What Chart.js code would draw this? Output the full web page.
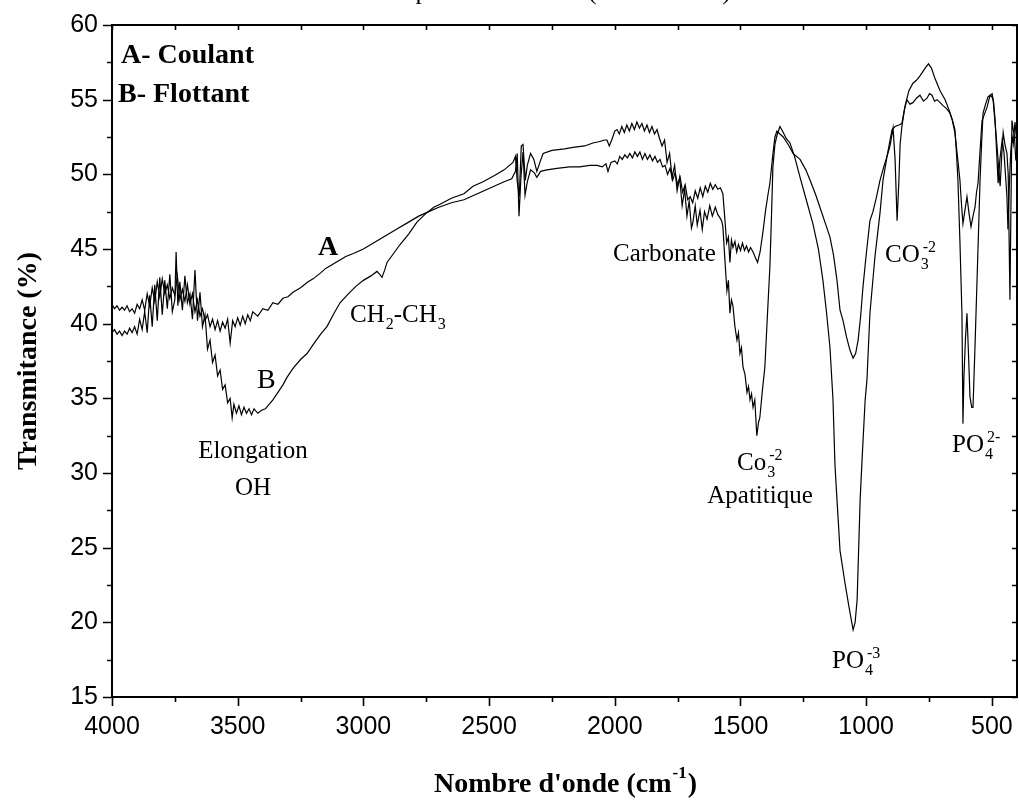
<!DOCTYPE html>
<html>
<head>
<meta charset="utf-8">
<script src="https://cdn.jsdelivr.net/npm/chart.js@4.4.0/dist/chart.umd.min.js"></script>
<style>
  body { margin: 0; background: #fff; }
  canvas { display: block; }
</style>
</head>
<body>
<canvas id="irChart" width="1019" height="803"></canvas>
<script>
// curve A - Coulant (starts high on the left, shallow phosphate band)
var waveA = [4000,3990,3980,3970,3960,3950,3940,3930,3920,3910,3900,3890,3880,3870,3860,3850,3840,3830,3820,3810,
  3800,3790,3780,3770,3760,3750,3740,3730,3720,3710,3700,3690,3680,3670,3660,3650,3640,3630,3620,3610,
  3600,3590,3580,3570,3560,3550,3540,3530,3520,3510,3500,3490,3480,3470,3460,3450,3440,3420,3400,3380,
  3360,3340,3320,3300,3280,3250,3220,3200,3170,3150,3120,3100,3070,3040,3000,2970,2940,2900,2860,2820,
  2780,2740,2700,2650,2600,2560,2520,2480,2440,2410,2395,2388,2381,2373,2365,2357,2348,2335,2320,2310,
  2295,2270,2230,2180,2140,2100,2070,2050,2035,2027,2015,2000,1990,1980,1970,1960,1950,1940,1930,1920,
  1910,1900,1890,1880,1870,1860,1850,1840,1830,1820,1810,1800,1790,1780,1770,1760,1750,1740,1730,1720,
  1710,1700,1690,1680,1670,1660,1650,1640,1630,1620,1610,1600,1590,1580,1570,1562,1555,1548,1542,1536,
  1530,1522,1515,1508,1500,1492,1484,1476,1468,1460,1450,1440,1432,1422,1411,1400,1390,1383,1372,1363,
  1355,1343,1330,1310,1291,1263,1240,1223,1200,1184,1160,1144,1130,1116,1104,1092,1078,1064,1052,1042,
  1032,1022,1013,1000,985,973,960,945,930,917,905,893,885,877,870,865,858,848,838,826,
  814,800,786,772,758,748,738,728,718,706,694,680,667,657,647,637,627,620,615,607,
  599,591,583,575,567,561,555,547,539,530,519,507,500,495,487,479,472,467,461,455,
  448,440,435,428,424,420,415,410,405,400];
var transA = [41.3,41.0,41.2,40.9,41.1,40.9,41.2,40.8,41.0,40.7,41.3,41.0,41.6,40.9,42.0,41.2,42.4,41.5,42.8,41.8,
  43.0,42.0,42.6,41.7,42.4,41.9,43.2,41.6,42.3,41.5,42.6,41.3,42.0,40.8,41.6,40.5,41.0,40.2,40.6,39.8,
  40.3,39.6,40.2,39.5,40.1,39.7,40.3,38.7,40.2,39.8,40.4,39.9,40.5,40.0,40.6,40.2,40.8,40.5,41.0,40.9,
  41.4,41.3,41.7,41.8,42.1,42.4,42.8,43.0,43.4,43.7,44.0,44.2,44.5,44.7,45.0,45.3,45.6,46.0,46.4,46.8,
  47.2,47.5,47.8,48.1,48.3,48.6,48.9,49.2,49.5,49.7,50.2,51.4,47.2,49.9,51.5,48.6,49.5,50.3,50.1,49.8,
  50.2,50.3,50.4,50.5,50.5,50.6,50.6,50.5,50.7,50.2,50.8,50.9,50.7,51.2,51.0,51.3,51.1,51.4,51.1,51.5,
  51.2,51.5,51.0,51.4,51.0,51.3,50.9,51.2,50.8,51.0,50.5,50.6,50.0,50.4,49.6,50.1,49.3,49.8,48.8,49.3,
  48.3,48.5,48.1,48.9,48.4,49.1,48.5,49.2,48.8,49.4,49.0,49.3,49.0,49.1,48.7,47.0,45.4,45.8,44.1,45.6,
  45.1,45.5,44.8,45.3,44.9,45.4,44.9,45.2,44.8,45.1,44.8,44.4,44.1,44.8,46.1,47.6,48.7,49.4,51.2,52.5,
  52.9,52.7,52.5,52.0,51.4,51.0,50.3,49.6,48.6,47.8,46.6,45.8,44.6,42.9,40.9,40.2,39.1,38.2,37.7,38.0,
  38.9,40.5,42.4,44.6,46.9,47.5,48.4,49.6,50.5,51.2,51.9,53.1,51.0,46.9,49.5,52.0,53.2,54.3,55.0,54.7,
  54.8,55.1,55.3,54.9,55.1,55.4,55.3,54.9,55.0,54.8,54.6,54.4,54.1,53.6,52.8,51.2,49.6,47.8,46.7,47.6,
  48.5,47.4,46.5,47.2,47.8,48.8,49.4,51.6,53.6,54.0,54.5,55.3,55.2,55.0,53.4,51.8,50.2,49.2,51.2,52.8,
  52.0,51.4,50.0,41.6,48.0,53.6,53.0,52.5,51.0,50.8];

// curve B - Flottant (deep OH band, deep phosphate band)
var waveB = [4000,3990,3980,3970,3960,3950,3940,3930,3920,3910,3900,3890,3880,3870,3860,3850,3840,3830,3820,3810,
  3800,3790,3780,3770,3760,3750,3745,3738,3730,3720,3710,3700,3690,3680,3670,3660,3650,3640,3630,3620,
  3610,3600,3590,3580,3570,3560,3550,3540,3530,3522,3515,3505,3495,3485,3475,3465,3455,3445,3435,3420,
  3405,3390,3375,3360,3340,3320,3304,3280,3250,3224,3200,3170,3145,3120,3093,3060,3030,3000,2970,2946,
  2935,2926,2915,2906,2880,2854,2820,2787,2750,2720,2695,2650,2600,2564,2524,2480,2440,2405,2395,2388,
  2380,2372,2365,2356,2348,2335,2322,2310,2298,2285,2250,2200,2166,2120,2087,2060,2040,2031,2022,2012,
  2000,1991,1982,1972,1962,1952,1942,1932,1922,1912,1902,1892,1882,1872,1862,1852,1842,1832,1822,1812,
  1802,1792,1782,1772,1762,1752,1742,1732,1722,1713,1704,1695,1689,1680,1672,1661,1652,1643,1633,1622,
  1612,1600,1590,1582,1575,1570,1562,1554,1548,1542,1536,1530,1522,1514,1508,1502,1496,1490,1482,1474,
  1468,1462,1456,1450,1443,1435,1428,1423,1413,1403,1393,1383,1377,1371,1363,1355,1343,1330,1318,1303,
  1285,1263,1240,1212,1190,1172,1158,1144,1132,1124,1116,1104,1084,1068,1052,1044,1036,1024,1016,1004,
  997,985,965,945,933,917,905,897,885,870,858,845,830,814,800,786,774,762,752,740,
  728,716,706,696,686,670,658,647,641,635,627,619,615,611,605,599,593,587,580,575,
  567,559,553,547,541,535,525,515,505,499,493,487,481,475,468,459,452,446,440,436,
  430,425,420,415,408,400];
var transB = [39.4,39.6,39.3,39.5,39.2,39.5,39.3,39.7,39.4,39.8,39.3,40.3,39.6,40.8,39.4,41.9,39.8,42.6,40.2,43.1,
  40.6,42.9,41.0,43.3,40.8,41.6,44.8,41.2,42.8,40.9,43.2,41.4,42.0,40.3,43.6,40.2,42.1,39.8,40.6,38.3,
  38.9,37.4,37.9,36.5,36.9,35.6,35.9,34.7,35.0,33.7,34.6,34.0,34.5,33.9,34.4,34.0,34.3,33.9,34.3,34.0,
  34.2,34.3,34.6,34.9,35.4,35.9,36.4,37.0,37.6,38.0,38.6,39.3,39.8,40.6,41.4,42.0,42.5,42.9,43.2,43.5,
  43.3,43.1,43.6,44.1,44.7,45.3,46.0,46.8,47.4,47.8,48.0,48.4,48.7,49.2,49.5,49.9,50.3,50.8,51.2,49.5,
  48.5,51.9,52.0,49.6,50.6,51.4,51.0,50.2,50.8,51.4,51.6,51.7,51.8,51.9,52.1,52.2,52.3,52.3,51.9,52.3,
  52.9,53.0,52.7,53.2,52.8,53.3,52.9,53.4,53.0,53.5,53.1,53.4,52.9,53.3,52.8,53.2,52.7,53.0,52.4,51.9,
  52.3,50.8,51.4,49.8,50.6,48.9,49.8,47.9,49.0,47.2,48.2,46.4,46.8,47.9,46.6,47.6,46.3,47.5,47.0,47.9,
  47.2,47.8,47.3,47.1,46.9,46.5,44.3,42.2,42.9,40.7,41.6,41.2,39.8,38.9,39.4,38.0,38.4,37.1,36.6,35.4,
  35.8,34.9,35.3,34.4,34.9,32.5,33.4,33.7,35.5,37.1,40.5,43.8,47.0,50.5,52.0,52.6,53.2,52.8,52.4,52.1,
  51.2,49.8,48.4,46.7,45.0,42.9,40.8,38.4,34.9,30.5,28.2,24.8,22.6,21.0,19.5,20.0,21.5,28.2,31.0,34.9,
  36.2,40.7,44.5,47.4,49.6,51.2,52.3,53.0,53.2,53.3,53.4,54.6,55.6,56.1,56.3,56.6,56.9,57.2,57.4,57.1,
  56.5,56.0,55.6,55.3,55.0,54.3,53.7,53.0,51.5,49.6,45.5,40.7,33.3,36.5,39.0,40.7,38.0,35.1,34.4,34.4,
  38.5,42.9,46.2,49.6,52.0,54.1,54.7,55.2,55.3,55.4,54.8,53.6,51.5,49.4,51.0,52.3,51.5,50.0,48.5,46.3,
  49.5,51.5,52.5,52.0,53.5,52.0];

// axes
var xTickValues = [500,750,1000,1250,1500,1750,2000,2250,2500,2750,3000,3250,3500,3750,4000];
var yTickValues = [15,17.5,20,22.5,25,27.5,30,32.5,35,37.5,40,42.5,45,47.5,50,52.5,55,57.5,60];

var tickFont = "'Liberation Sans Narrow', 'Liberation Sans', Arial, sans-serif";
var serif = "'Liberation Serif', 'Times New Roman', serif";

function toPoints(wave, trans) {
  var pts = [];
  for (var i = 0; i < wave.length; i++) pts.push({x: wave[i], y: trans[i]});
  return pts;
}

// draws text with subscript / superscript pieces, left aligned on a baseline
function drawChem(ctx, parts, x, y, size) {
  var cx = x;
  var subX = null;
  parts.forEach(function(p) {
    var txt = p[0], kind = p[1];
    if (kind === 'sub') {
      ctx.font = Math.round(size * 0.62) + 'px ' + serif;
      ctx.fillText(txt, cx + 1, y + size * 0.28);
      subX = cx;
      cx += ctx.measureText(txt).width + 1;
    } else if (kind === 'sup') {
      ctx.font = Math.round(size * 0.62) + 'px ' + serif;
      var sx = subX !== null ? subX + 3 : cx + 1;
      ctx.fillText(txt, sx, y - size * 0.42);
      cx = Math.max(cx, sx + ctx.measureText(txt).width);
    } else {
      ctx.font = size + 'px ' + serif;
      ctx.fillText(txt, cx, y);
      cx += ctx.measureText(txt).width;
      subX = null;
    }
  });
}

var decorations = {
  id: 'decorations',
  afterDraw: function(chart) {
    var ctx = chart.ctx, a = chart.chartArea;
    var xs = chart.scales.x, ys = chart.scales.y;
    ctx.save();
    ctx.strokeStyle = '#000';
    ctx.fillStyle = '#000';

    // frame
    ctx.lineWidth = 2;
    ctx.strokeRect(a.left, a.top, a.right - a.left, a.bottom - a.top);

    // tick marks: outside on left/bottom, inside on top/right
    ctx.lineWidth = 1.6;
    ctx.beginPath();
    xTickValues.forEach(function(v) {
      var px = Math.round(xs.getPixelForValue(v)) + 0.5;
      var len = v % 500 === 0 ? 9 : 5;
      ctx.moveTo(px, a.bottom); ctx.lineTo(px, a.bottom + len);
      ctx.moveTo(px, a.top); ctx.lineTo(px, a.top + 5);
    });
    yTickValues.forEach(function(v) {
      var py = Math.round(ys.getPixelForValue(v)) + 0.5;
      var len = v % 5 === 0 ? 9 : 5;
      ctx.moveTo(a.left, py); ctx.lineTo(a.left - len, py);
      ctx.moveTo(a.right, py); ctx.lineTo(a.right - 5, py);
    });
    ctx.stroke();

    ctx.textBaseline = 'alphabetic';
    ctx.textAlign = 'left';

    // title cut at the top of the picture, only its lowest part shows
    ctx.font = '26px ' + serif;
    ctx.fillText('Spectre IR', 401, -1);
    ctx.fillText('(échantillons)', 588, -1);

    // x axis title with superscript
    ctx.font = 'bold 28px ' + serif;
    var t1 = "Nombre d'onde (cm";
    var w1 = ctx.measureText(t1).width;
    ctx.font = 'bold 17px ' + serif;
    var w2 = ctx.measureText('-1').width;
    ctx.font = 'bold 28px ' + serif;
    var startX = (a.left + a.right) / 2 - (w1 + w2 + ctx.measureText(')').width) / 2;
    ctx.fillText(t1, startX, 792);
    ctx.font = 'bold 17px ' + serif;
    ctx.fillText('-1', startX + w1 + 1, 778);
    ctx.font = 'bold 28px ' + serif;
    ctx.fillText(')', startX + w1 + w2 + 2, 792);

    // legend text
    ctx.fillText('A- Coulant', 121, 63);
    ctx.fillText('B- Flottant', 118, 102);
    ctx.fillText('A', 318, 255);
    ctx.font = '28px ' + serif;
    ctx.fillText('B', 257, 388);

    // band labels
    var s = 25;
    ctx.font = s + 'px ' + serif;
    ctx.textAlign = 'center';
    ctx.fillText('Elongation', 253, 458);
    ctx.fillText('OH', 253, 495);
    ctx.fillText('Apatitique', 760, 503);
    ctx.textAlign = 'left';
    ctx.fillText('Carbonate', 613, 261);
    drawChem(ctx, [['CH', ''], ['2', 'sub'], ['-CH', ''], ['3', 'sub']], 350, 322, s);
    drawChem(ctx, [['Co', ''], ['3', 'sub'], ['-2', 'sup']], 737, 470, s);
    drawChem(ctx, [['PO', ''], ['4', 'sub'], ['-3', 'sup']], 832, 668, s);
    drawChem(ctx, [['CO', ''], ['3', 'sub'], ['-2', 'sup']], 885, 262, s);
    drawChem(ctx, [['PO', ''], ['4', 'sub'], ['2-', 'sup']], 952, 452, s);
    ctx.restore();
  }
};

var ctx = document.getElementById('irChart').getContext('2d');
var irChart = new Chart(ctx, {
  type: 'line',
  data: {
    datasets: [{
      label: 'A- Coulant',
      data: toPoints(waveA, transA),
      borderColor: '#000',
      borderWidth: 1.2,
      pointRadius: 0,
      fill: false,
      tension: 0
    }, {
      label: 'B- Flottant',
      data: toPoints(waveB, transB),
      borderColor: '#000',
      borderWidth: 1.2,
      pointRadius: 0,
      fill: false,
      tension: 0
    }]
  },
  options: {
    responsive: false,
    animation: false,
    devicePixelRatio: 1,
    layout: { padding: { top: 25, right: 2, left: 0, bottom: 0 } },
    plugins: { legend: { display: false }, tooltip: { enabled: false } },
    scales: {
      x: {
        type: 'linear',
        reverse: true,
        min: 400,
        max: 4000,
        grid: { display: false, drawTicks: true, tickLength: 9 },
        border: { display: false },
        afterBuildTicks: function(scale) {
          scale.ticks = xTickValues.map(function(v) { return {value: v}; });
        },
        afterFit: function(scale) { scale.height = 106; },
        ticks: {
          autoSkip: false,
          maxRotation: 0,
          padding: 6,
          color: '#000',
          font: { family: tickFont, size: 25 },
          callback: function(v) { return v % 500 === 0 ? String(v) : ''; }
        }
      },
      y: {
        type: 'linear',
        min: 15,
        max: 60,
        grid: { display: false, drawTicks: true, tickLength: 9 },
        border: { display: false },
        afterBuildTicks: function(scale) {
          scale.ticks = yTickValues.map(function(v) { return {value: v}; });
        },
        afterFit: function(scale) { scale.width = 112; },
        title: {
          display: true,
          text: 'Transmitance (%)',
          color: '#000',
          font: { family: serif, size: 28, weight: 'bold' },
          padding: { top: 12, bottom: 0 }
        },
        ticks: {
          autoSkip: false,
          padding: 5,
          color: '#000',
          font: { family: tickFont, size: 25 },
          callback: function(v) { return v % 5 === 0 ? String(v) : ''; }
        }
      }
    }
  },
  plugins: [decorations]
});
</script>
</body>
</html>
